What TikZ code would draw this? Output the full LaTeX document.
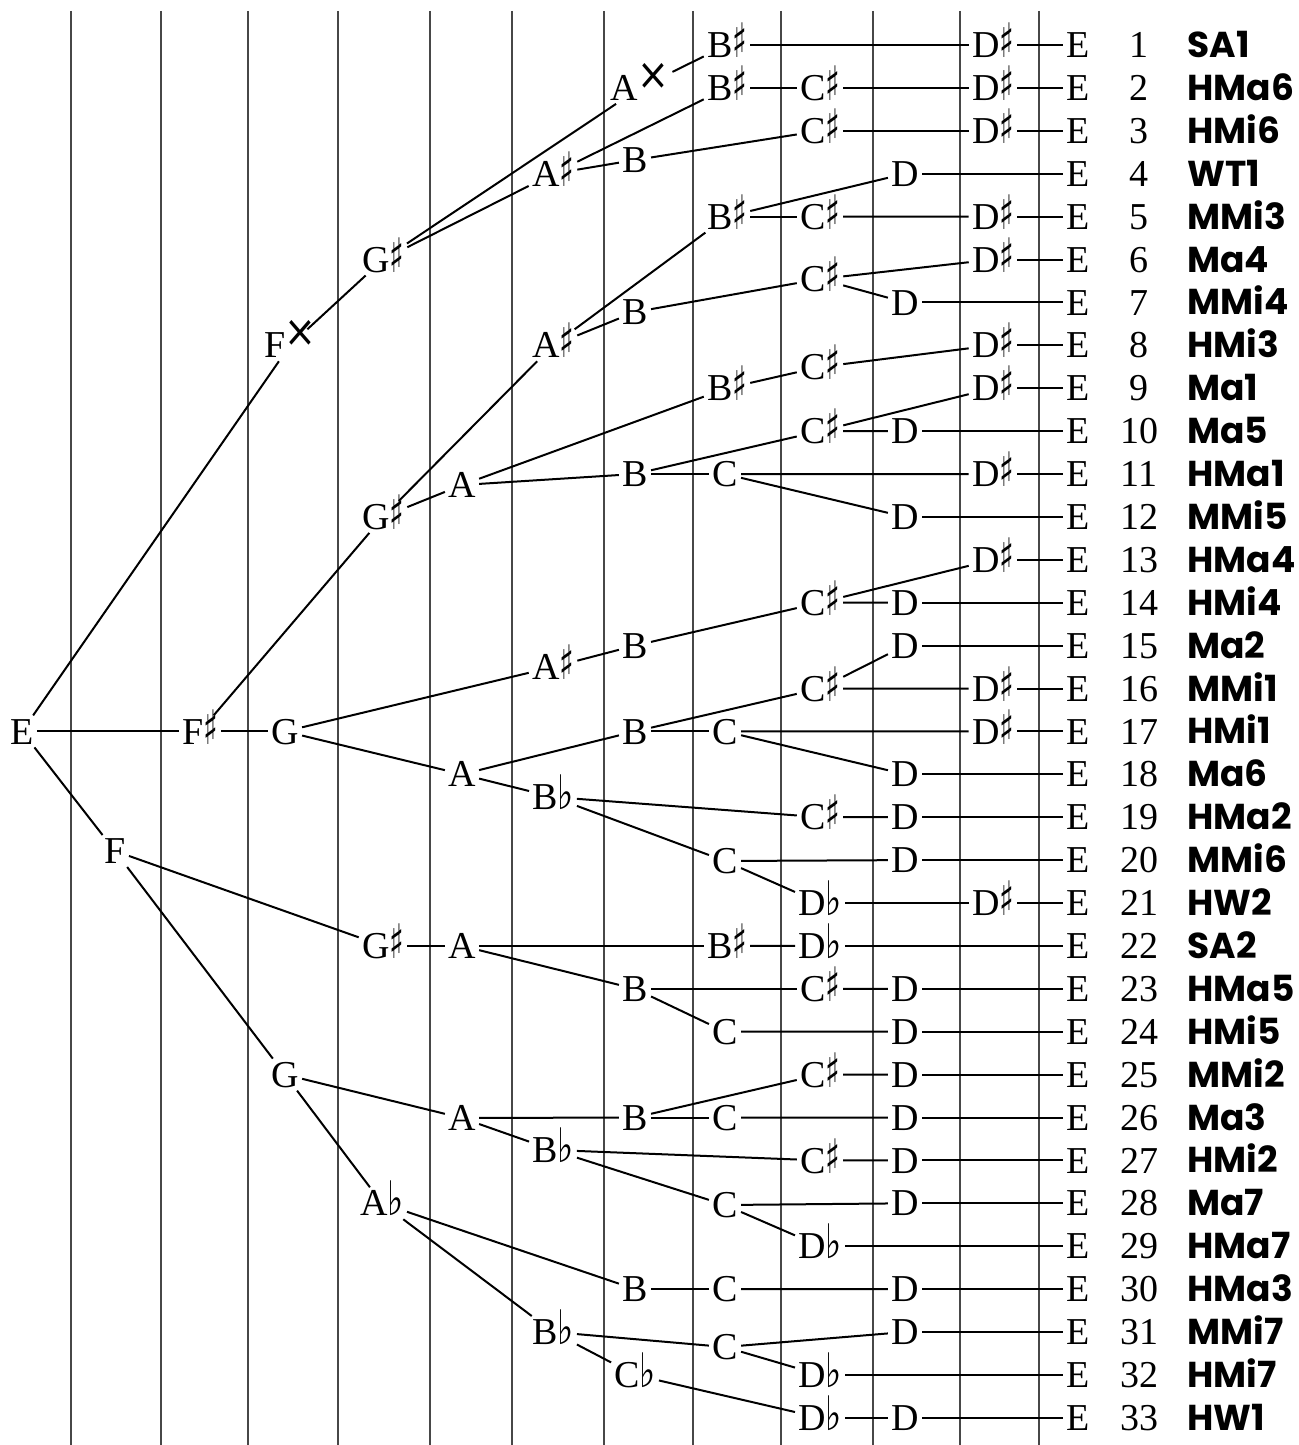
\documentclass[tikz,border=0pt]{standalone}
\usepackage{graphicx}
\usepackage{fontspec}
\setmainfont{Liberation Serif}
\newfontfamily\symfont{DejaVu Sans}
\newfontfamily\labfont{Poppins}
\newcommand\shp{\kern-0.01em{\symfont\scalebox{0.8}[1.25]{♯}}}
\newcommand\flt{\kern-0.01em{\symfont\bfseries\scalebox{0.9}[1.25]{♭}}}
\newcommand\dsh{\kern-0.03em\raisebox{0.3em}{\symfont\scalebox{1.0}[1.15]{×}}}
\begin{document}
\begin{tikzpicture}[x=0.5pt,y=-0.5pt,
  note/.style={inner sep=1.5pt, text height=12.6pt, text depth=0pt, font=\fontsize{19}{20}\selectfont},
  numtxt/.style={inner sep=0pt, text height=12.6pt, text depth=0pt, font=\fontsize{19}{20}\selectfont},
  labtxt/.style={anchor=west, inner sep=0pt, text height=12.5pt, text depth=0pt, font=\labfont\bfseries\fontsize{18}{20}\selectfont},
  con/.style={line width=1pt},
  gridline/.style={line width=1pt, draw=black!72}]
\useasboundingbox (0,0) rectangle (1299,1445);
% vertical lines
\foreach \x in {71,161,248,338,430,512,604,693,781,873,960,1039}
  \draw[gridline] (\x,11) -- (\x,1445);
% root and early levels
\node[note] (e0) at (22,731.4) {E};
\node[note] (fx) at (290,345.3) {F\dsh};
\node[note] (fs) at (200,731.4) {F\shp};
\node[note] (f) at (115,851) {F};
\node[note] (gs1) at (383,259.5) {G\shp};
\node[note] (gs2) at (383,516.9) {G\shp};
\node[note] (g1) at (285,731.4) {G};
\node[note] (gs3) at (383,945.9) {G\shp};
\node[note] (g2) at (285,1074.6) {G};
\node[note] (ab) at (382,1203.3) {A\flt};
% A level
\node[note] (ax) at (640,87.9) {A\dsh};
\node[note] (as1) at (553,173.7) {A\shp};
\node[note] (as2) at (553,345.3) {A\shp};
\node[note] (a1) at (462,485) {A};
\node[note] (as3) at (553,667) {A\shp};
\node[note] (a2) at (462,774.3) {A};
\node[note] (a3) at (462,945.9) {A};
\node[note] (a4) at (462,1118) {A};
% B level
\node[note] (bs1) at (727,45) {B\shp};
\node[note] (bs2) at (727,87.9) {B\shp};
\node[note] (b1) at (635,160) {B};
\node[note] (bs3) at (727,216.6) {B\shp};
\node[note] (b2) at (635,312) {B};
\node[note] (bs4) at (727,388.2) {B\shp};
\node[note] (b3) at (635,474) {B};
\node[note] (b4) at (635,645.6) {B};
\node[note] (b5) at (635,731.4) {B};
\node[note] (bb1) at (553,797) {B\flt};
\node[note] (bs5) at (727,945.9) {B\shp};
\node[note] (b6) at (635,988.8) {B};
\node[note] (b7) at (635,1117.5) {B};
\node[note] (bb2) at (553,1150) {B\flt};
\node[note] (b8) at (635,1289.1) {B};
\node[note] (bb3) at (553,1332) {B\flt};
% C level
\node[note] (cs1) at (820,87.9) {C\shp};
\node[note] (cs2) at (820,130.8) {C\shp};
\node[note] (cs3) at (820,216.6) {C\shp};
\node[note] (cs4) at (820,279) {C\shp};
\node[note] (cs5) at (820,367) {C\shp};
\node[note] (cs6) at (820,431.1) {C\shp};
\node[note] (c1) at (725,474) {C};
\node[note] (cs7) at (820,602.7) {C\shp};
\node[note] (cs8) at (820,688.5) {C\shp};
\node[note] (c2) at (725,731.4) {C};
\node[note] (cs9) at (820,817.2) {C\shp};
\node[note] (c3) at (725,861) {C};
\node[note] (cs10) at (820,988.8) {C\shp};
\node[note] (c4) at (725,1031.7) {C};
\node[note] (cs11) at (820,1074.6) {C\shp};
\node[note] (c5) at (725,1117.5) {C};
\node[note] (cs12) at (820,1160.4) {C\shp};
\node[note] (c6) at (725,1205) {C};
\node[note] (c7) at (725,1289.1) {C};
\node[note] (c8) at (725,1347) {C};
\node[note] (cb) at (635,1374.9) {C\flt};
% D level
\foreach \r in {4,7,10,12,14,15,18,19,20,23,24,25,26,27,28,30,31,33}
  \node[note] (d\r) at (905,{45+(\r-1)*42.9}) {D};
\foreach \r in {21,22,29,32,33}
  \node[note] (db\r) at (820,{45+(\r-1)*42.9}) {D\flt};
\foreach \r in {1,2,3,5,6,8,9,11,13,16,17,21}
  \node[note] (ds\r) at (993,{45+(\r-1)*42.9}) {D\shp};
% E column, numbers, labels
\foreach \lab [count=\r] in {SA1,HMa6,HMi6,WT1,MMi3,Ma4,MMi4,HMi3,Ma1,Ma5,HMa1,MMi5,HMa4,HMi4,Ma2,MMi1,HMi1,Ma6,HMa2,MMi6,HW2,SA2,HMa5,HMi5,MMi2,Ma3,HMi2,Ma7,HMa7,HMa3,MMi7,HMi7,HW1}{
  \node[note] (e\r) at (1078,{45+(\r-1)*42.9}) {E};
  \node[numtxt] (n\r) at (1139,{45+(\r-1)*42.9}) {\r};
  \node[labtxt] (l\r) at (1187,{45+(\r-1)*42.9}) {\lab};
}
% connectors
\foreach \p/\c in {e0/fx,e0/fs,e0/f,fx/gs1,fs/gs2,fs/g1,f/gs3,f/g2,
  gs1/ax,gs1/as1,gs2/as2,gs2/a1,g1/as3,g1/a2,gs3/a3,g2/a4,g2/ab,
  ax/bs1,as1/bs2,as1/b1,as2/bs3,as2/b2,a1/bs4,a1/b3,as3/b4,a2/b5,a2/bb1,
  a3/bs5,a3/b6,a4/b7,a4/bb2,ab/b8,ab/bb3,
  bs1/ds1,bs2/cs1,b1/cs2,bs3/d4,bs3/cs3,b2/cs4,bs4/cs5,b3/cs6,b3/c1,b4/cs7,
  b5/cs8,b5/c2,bb1/cs9,bb1/c3,bs5/db22,b6/cs10,b6/c4,b7/cs11,b7/c5,bb2/cs12,bb2/c6,
  b8/c7,bb3/c8,bb3/cb,
  cs1/ds2,cs2/ds3,cs3/ds5,cs4/ds6,cs4/d7,cs5/ds8,cs6/ds9,cs6/d10,c1/ds11,c1/d12,
  cs7/ds13,cs7/d14,cs8/d15,cs8/ds16,c2/ds17,c2/d18,cs9/d19,c3/d20,c3/db21,
  cs10/d23,c4/d24,cs11/d25,c5/d26,cs12/d27,c6/d28,c6/db29,c7/d30,c8/d31,c8/db32,
  cb/db33,db21/ds21,db33/d33}
  \draw[con] (\p) -- (\c);
\foreach \s/\r in {ds1/1,ds2/2,ds3/3,d4/4,ds5/5,ds6/6,d7/7,ds8/8,ds9/9,d10/10,ds11/11,
  d12/12,ds13/13,d14/14,d15/15,ds16/16,ds17/17,d18/18,d19/19,d20/20,ds21/21,db22/22,
  d23/23,d24/24,d25/25,d26/26,d27/27,d28/28,db29/29,d30/30,d31/31,db32/32,d33/33}
  \draw[con] (\s) -- (e\r);
\end{tikzpicture}
\end{document}
